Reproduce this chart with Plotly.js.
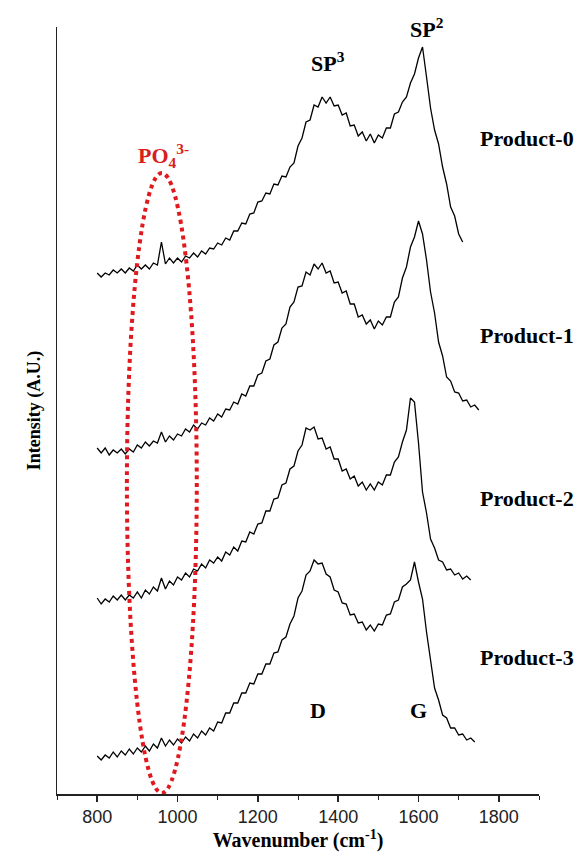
<!DOCTYPE html>
<html>
<head>
<meta charset="utf-8">
<script src="https://cdn.plot.ly/plotly-3.0.1.min.js"></script>
<style>html,body{margin:0;padding:0;background:#fff;}#chart{width:576px;height:853px;}</style>
</head>
<body>
<div id="chart"></div>
<script>
// Wavenumber grid (cm-1), shared by all spectra
const wavenumber = [800,810,820,830,840,850,860,870,880,890,900,910,920,930,940,950,960,970,980,990,
1000,1010,1020,1030,1040,1050,1060,1070,1080,1090,1100,1110,1120,1130,1140,1150,1160,1170,1180,1190,
1200,1210,1220,1230,1240,1250,1260,1270,1280,1290,1300,1310,1320,1330,1340,1350,1360,1370,1380,1390,
1400,1410,1420,1430,1440,1450,1460,1470,1480,1490,1500,1510,1520,1530,1540,1550,1560,1570,1580,1590,
1600,1610,1620,1630,1640,1650,1660,1670,1680,1690,1700,1710,1720,1730,1740,1750];

// Offset intensities (A.U.)
const product0 = [521,517,521,519,524,521,525,521,526,523,529,525,529,525,531,529,552,530,536,531,
536,532,538,536,541,537,543,540,546,545,551,549,556,554,563,563,571,570,580,581,
592,593,601,600,610,609,618,617,627,631,648,656,672,674,689,687,697,691,697,688,
689,679,681,668,669,658,662,653,660,651,659,656,666,666,680,682,692,697,711,720,
736,747,717,686,664,650,627,610,587,578,560,552];

const product1 = [346,341,346,339,344,341,345,340,345,342,349,346,352,348,353,351,362,352,358,354,
360,358,365,362,369,365,371,369,376,373,380,377,385,384,392,390,400,398,408,408,
419,421,433,435,449,452,466,470,487,492,507,508,522,519,530,525,531,521,523,511,
512,501,503,490,490,477,479,470,474,465,473,469,477,477,492,497,516,527,547,557,
573,560,534,502,481,452,438,417,413,402,401,393,394,387,389,384];

const product2 = [196,190,195,192,198,194,199,194,199,196,202,196,204,200,207,203,216,205,213,209,
217,214,221,217,225,223,230,226,234,231,237,233,242,239,247,243,253,252,262,260,
270,271,283,283,295,296,309,311,325,328,343,349,366,364,367,355,356,345,347,335,
335,323,325,315,318,308,312,304,310,304,312,309,319,319,332,337,352,364,396,392,
351,302,281,255,246,234,232,224,225,219,221,215,218,214];

const product3 = [38,34,39,36,42,37,43,39,45,40,46,42,48,43,50,46,56,48,54,49,
55,51,57,53,60,56,63,59,66,63,72,71,81,81,91,91,101,101,111,110,
120,120,130,130,141,142,154,157,170,178,196,203,219,223,234,230,231,220,217,204,
202,191,190,179,180,171,172,164,169,163,170,169,179,180,192,194,207,210,214,232,
212,195,162,134,106,94,79,76,66,66,59,60,54,56,52];

const seriesNames = ['Product-0','Product-1','Product-2','Product-3'];
const seriesData = [product0, product1, product2, product3];

const xTickVals = [800,1000,1200,1400,1600,1800];

const traces = seriesData.map((ys, i) => ({
  type: 'scatter', mode: 'lines', name: seriesNames[i],
  x: wavenumber.slice(0, ys.length), y: ys,
  line: {color: '#000000', width: 1.3}, showlegend: false
}));

const serif = 'Liberation Serif, Times New Roman, serif';
const ann = (x, y, text, opts) => Object.assign({
  x: x, y: y, xref: 'x', yref: 'y', text: text, showarrow: false,
  font: {family: serif, size: 22, color: '#000'}
}, opts || {});

const layout = {
  width: 576, height: 853,
  margin: {l: 57, r: 37, t: 27, b: 59},
  paper_bgcolor: '#fff', plot_bgcolor: '#fff',
  xaxis: {
    range: [700, 1900], showgrid: false, zeroline: false,
    showline: true, linecolor: '#222', linewidth: 1.5,
    ticks: 'outside', ticklen: 6, tickwidth: 1.5, tickcolor: '#222',
    tickvals: xTickVals,
    tickfont: {family: 'Liberation Sans, Arial, sans-serif', size: 18, color: '#222'},
    minor: {dtick: 100, ticks: 'outside', ticklen: 4, tickwidth: 1, tickcolor: '#222'},
    title: {text: '<b>Wavenumber (cm<sup>-1</sup>)</b>', font: {family: serif, size: 20, color: '#000'}, standoff: 6}
  },
  yaxis: {
    range: [0, 767], showgrid: false, zeroline: false,
    showline: true, linecolor: '#222', linewidth: 1.5,
    ticks: '', showticklabels: false,
    title: {text: '<b>Intensity (A.U.)</b>', font: {family: serif, size: 18, color: '#000'}, standoff: 10}
  },
  shapes: [{
    type: 'circle', xref: 'x', yref: 'y',
    x0: 874, x1: 1048, y0: 1, y1: 621,
    line: {color: '#e0191e', width: 4, dash: 'dot'}
  }],
  annotations: [
    ann(1375, 732, '<b>SP<sup>3</sup></b>'),
    ann(1622, 766, '<b>SP<sup>2</sup></b>'),
    ann(966, 639, '<b>PO<sub>4</sub><sup>3-</sup></b>', {font: {family: serif, size: 22, color: '#d81e1e'}}),
    ann(1748, 656, '<b>Product-0</b>', {xanchor: 'left'}),
    ann(1748, 459, '<b>Product-1</b>', {xanchor: 'left'}),
    ann(1748, 296, '<b>Product-2</b>', {xanchor: 'left'}),
    ann(1748, 137, '<b>Product-3</b>', {xanchor: 'left'}),
    ann(1350, 84, '<b>D</b>'),
    ann(1599, 84, '<b>G</b>')
  ]
};

Plotly.newPlot('chart', traces, layout, {staticPlot: true, displayModeBar: false});
</script>
</body>
</html>
